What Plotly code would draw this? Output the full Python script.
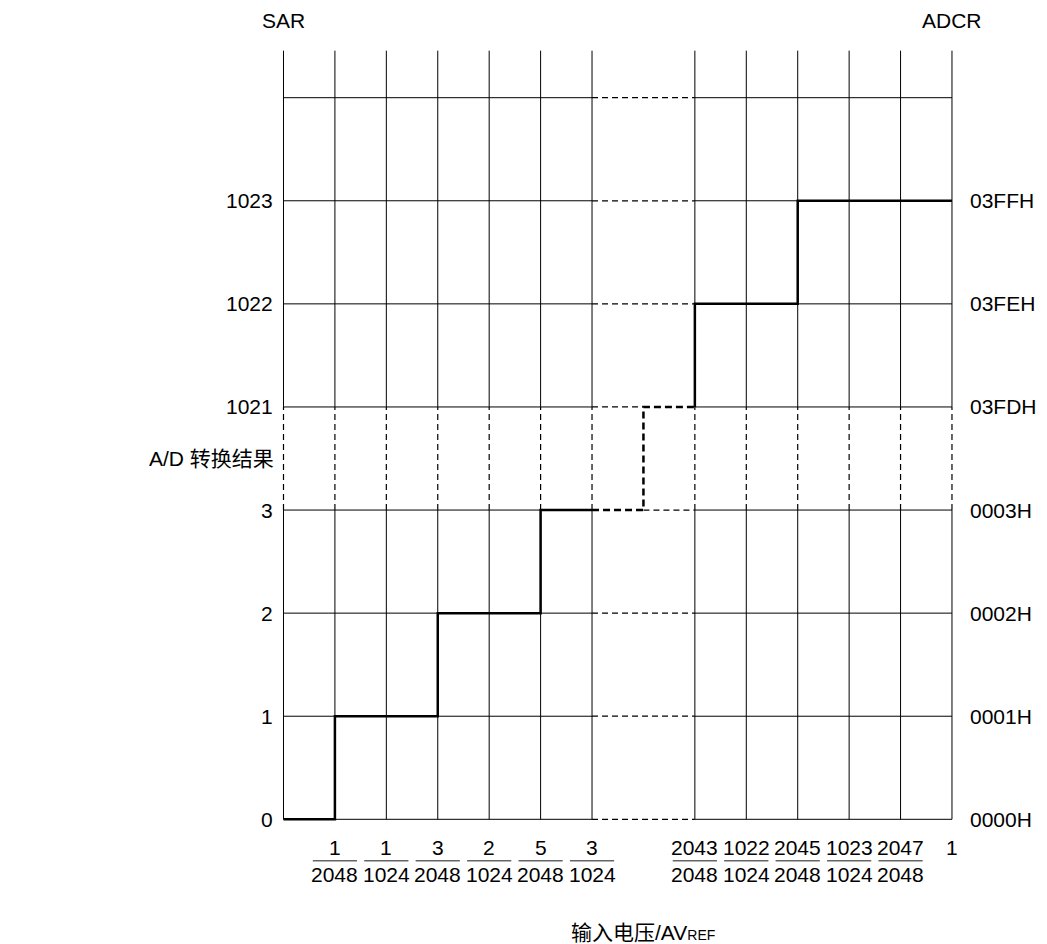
import plotly.graph_objects as go

# grid columns (left block, gap, right block) and rows, in grid units
cols_left = [0, 1, 2, 3, 4, 5, 6]
cols_right = [8, 9, 10, 11, 12, 13]
rows = [0, 1, 2, 3, 4, 5, 6, 7]
row_break = (3, 4)        # band between 3 and 1021 is drawn dashed
col_top = 7.456

sar_labels = ["0", "1", "2", "3", "1021", "1022", "1023"]
adcr_labels = ["0000H", "0001H", "0002H", "0003H", "03FDH", "03FEH", "03FFH"]

# x tick fractions (numerator / denominator), one per column line after 0
frac_num = ["1", "1", "3", "2", "5", "3", "2043", "1022", "2045", "1023", "2047"]
frac_den = ["2048", "1024", "2048", "1024", "2048", "1024",
            "2048", "1024", "2048", "1024", "2048"]
frac_cols = [1, 2, 3, 4, 5, 6, 8, 9, 10, 11, 12]

# conversion staircase
step_low_x = [0, 1, 1, 3, 3, 5, 5, 6]
step_low_y = [0, 0, 1, 1, 2, 2, 3, 3]
step_mid_x = [6, 7, 7, 8]
step_mid_y = [3, 3, 4, 4]
step_high_x = [8, 8, 10, 10, 13]
step_high_y = [4, 5, 5, 6, 6]

FONT = "Liberation Sans, Arial, Noto Sans CJK SC, sans-serif"
GRID = "#000000"

fig = go.Figure()


def segs(pairs):
    xs, ys = [], []
    for (x0, y0), (x1, y1) in pairs:
        xs += [x0, x1, None]
        ys += [y0, y1, None]
    return xs, ys


solid, dashed = [], []
for r in rows:
    solid.append(((cols_left[0], r), (cols_left[-1], r)))
    solid.append(((cols_right[0], r), (cols_right[-1], r)))
    if r == row_break[0]:
        dashed.append(((7, r), (8, r)))
    elif r == row_break[1]:
        dashed.append(((6, r), (7, r)))
    else:
        dashed.append(((cols_left[-1], r), (cols_right[0], r)))
for c in cols_left + cols_right:
    solid.append(((c, 0), (c, row_break[0])))
    dashed.append(((c, row_break[0]), (c, row_break[1])))
    solid.append(((c, row_break[1]), (c, col_top)))

xs, ys = segs(solid)
fig.add_trace(go.Scatter(x=xs, y=ys, mode="lines",
                         line=dict(color=GRID, width=1), hoverinfo="skip"))
xs, ys = segs(dashed)
fig.add_trace(go.Scatter(x=xs, y=ys, mode="lines",
                         line=dict(color=GRID, width=1.2, dash="6px,4px"),
                         hoverinfo="skip"))

# staircase
fig.add_trace(go.Scatter(x=step_low_x, y=step_low_y, mode="lines",
                         line=dict(color="black", width=2.5)))
fig.add_trace(go.Scatter(x=step_mid_x, y=step_mid_y, mode="lines",
                         line=dict(color="black", width=2.5, dash="7px,4px")))
fig.add_trace(go.Scatter(x=step_high_x, y=step_high_y, mode="lines",
                         line=dict(color="black", width=2.5)))

ann = []
for i, lab in enumerate(sar_labels):
    ann.append(dict(x=0, y=i, text=lab, xanchor="right", yanchor="middle",
                    xshift=-8, showarrow=False))
for i, lab in enumerate(adcr_labels):
    ann.append(dict(x=13, y=i, text=lab, xanchor="left", yanchor="middle",
                    xshift=16, showarrow=False))

num_y, bar_y, den_y = -0.278, -0.402, -0.54
shapes = []
for c, n, d in zip(frac_cols, frac_num, frac_den):
    ann.append(dict(x=c, y=num_y, text=n, showarrow=False, yanchor="middle"))
    ann.append(dict(x=c, y=den_y, text=d, showarrow=False, yanchor="middle"))
    half = 0.43 if len(d) == 4 else 0.2
    shapes.append(dict(type="line", x0=c - half, x1=c + half, y0=bar_y, y1=bar_y,
                       line=dict(color="#666666", width=1.5)))
ann.append(dict(x=13, y=num_y, text="1", showarrow=False, yanchor="middle"))

ann.append(dict(x=0, y=7.744, text="SAR", showarrow=False))
ann.append(dict(x=13, y=7.744, text="ADCR", showarrow=False))
ann.append(dict(x=-2.66, y=3.5, text="A/D 转换结果", showarrow=False,
                xanchor="left"))
ann.append(dict(x=7, y=-1.097, showarrow=False,
                text="输入电压/AV<span style='font-size:14px'>REF</span>"))

# page body has an 8px margin, so the figure is 8px smaller and ranges are
# set so grid lines land at the same screen pixels as the reference
fig.update_layout(
    width=1039, height=936,
    margin=dict(l=0, r=0, t=0, b=0),
    plot_bgcolor="white", paper_bgcolor="white",
    showlegend=False,
    font=dict(family=FONT, size=21, color="black"),
    xaxis=dict(range=[-5.3575, 14.848], visible=False, fixedrange=True),
    yaxis=dict(range=[-1.2095, 7.870], visible=False, fixedrange=True),
    annotations=ann,
    shapes=shapes,
)

fig.write_html("out.html")
